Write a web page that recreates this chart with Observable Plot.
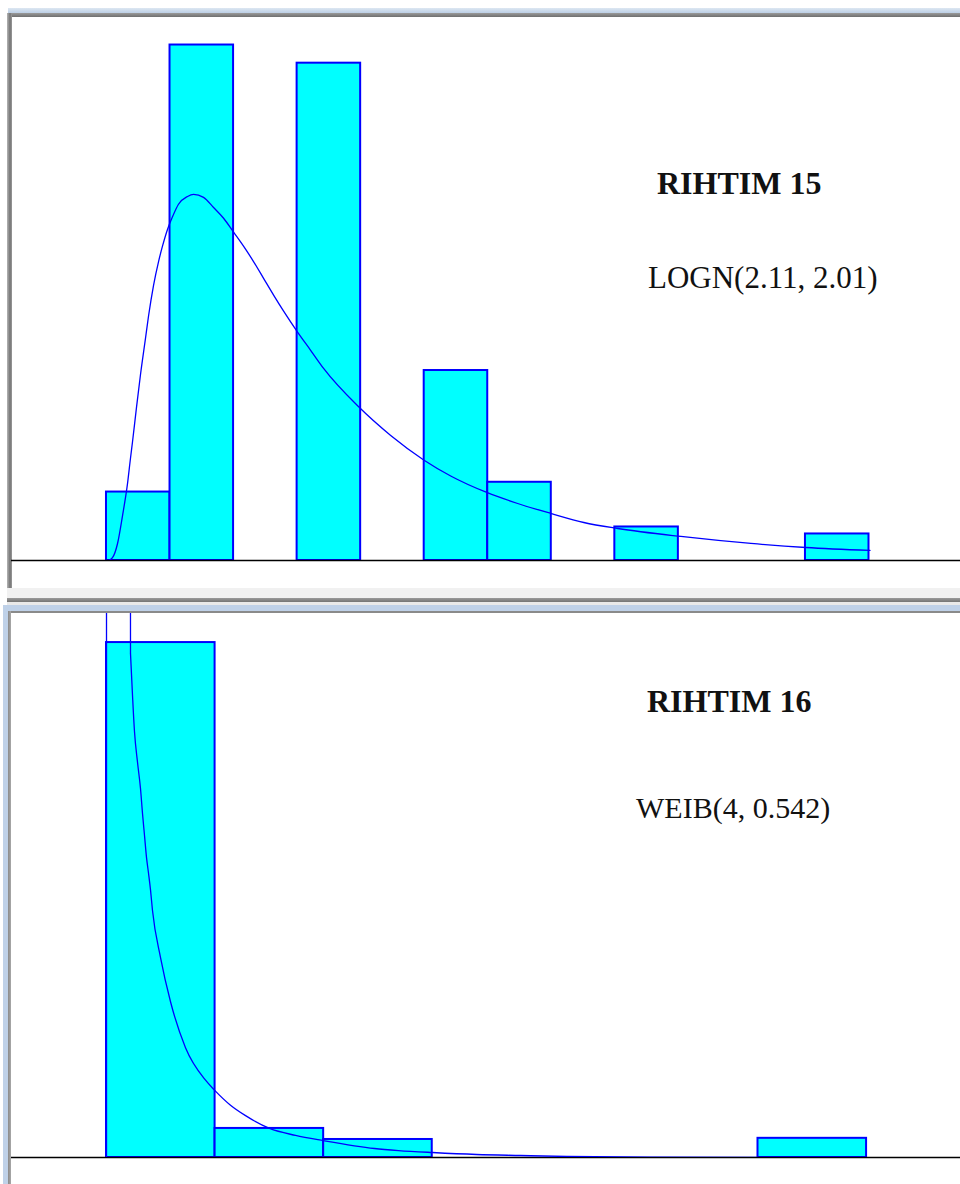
<!DOCTYPE html>
<html><head><meta charset="utf-8">
<script src="https://cdn.jsdelivr.net/npm/d3@7"></script>
<script src="https://cdn.jsdelivr.net/npm/@observablehq/plot@0.6"></script>
<style>
body{margin:0;background:#fff;width:960px;height:1184px;position:relative;overflow:hidden;font-family:"Liberation Serif","Times New Roman",serif}
.abs{position:absolute}
.lbl{position:absolute;line-height:1;white-space:nowrap;color:#111}
.ttl{font-weight:bold;font-size:32px}
</style></head><body>
<!-- window frame of panel 1 -->
<div class="abs" style="left:8px;top:8px;width:952px;height:5px;background:linear-gradient(#dde7f2,#bccfe5)"></div>
<div class="abs" style="left:7px;top:13px;width:953px;height:4px;background:linear-gradient(#9a9a9a,#6f6f6f)"></div>
<div class="abs" style="left:7px;top:13px;width:5px;height:575px;background:linear-gradient(90deg,#b5b5b5,#747474 60%,#9a9a9a)"></div>
<div class="abs" style="left:7px;top:588px;width:953px;height:10px;background:#f1f1f1"></div>
<!-- window frame of panel 2 -->
<div class="abs" style="left:7px;top:598px;width:953px;height:4px;background:linear-gradient(#9a9a9a,#747474)"></div>
<div class="abs" style="left:7px;top:602px;width:953px;height:3px;background:#e9e9e9"></div>
<div class="abs" style="left:3px;top:605px;width:957px;height:6px;background:#bfd1e8"></div>
<div class="abs" style="left:3px;top:605px;width:5px;height:579px;background:#bfd1e8"></div>
<div class="abs" style="left:8px;top:611px;width:952px;height:2px;background:#8a8a8a"></div>
<div class="abs" style="left:8px;top:611px;width:3px;height:573px;background:linear-gradient(90deg,#8a8a8a,#a8a8a8)"></div>

<div id="chart15" class="abs" style="left:11px;top:17px"></div>
<div id="chart16" class="abs" style="left:11px;top:613px"></div>

<div class="lbl ttl" style="left:657px;top:167px">RIHTIM 15</div>
<div class="lbl" style="left:648px;top:262px;font-size:31px">LOGN(2.11, 2.01)</div>
<div class="lbl ttl" style="left:647px;top:685px">RIHTIM 16</div>
<div class="lbl" style="left:636px;top:793px;font-size:30px">WEIB(4, 0.542)</div>

<script>
// ---- RIHTIM 15 : histogram (percent of observations per bin), bins of width 7/12 from 0
const r15BinStart = 0;
const r15BinWidth = 7 / 12;
const r15Freq = [4.9, 36.9, 0, 35.6, 0, 13.6, 5.6, 0, 2.4, 0, 0, 1.9];
// fitted LOGN(2.11, 2.01) curve (same units)
const r15CurveX = [0.018, 0.055, 0.101, 0.147, 0.193, 0.220, 0.239, 0.276, 0.312, 0.358, 0.386, 0.432, 0.478, 0.514, 0.560, 0.606, 0.661, 0.744, 0.799, 0.891, 0.983, 1.075, 1.167, 1.258, 1.350, 1.442, 1.534, 1.626, 1.754, 1.874, 1.993, 2.315, 2.609, 2.912, 3.160, 3.491, 3.775, 4.079, 4.382, 4.694, 5.273, 5.916, 6.421, 7.009];
const r15CurveY = [0, 0.2, 1.2, 3.2, 5.5, 7.3, 8.5, 11.0, 13.3, 15.9, 17.5, 19.7, 21.4, 22.5, 23.7, 24.6, 25.5, 26.06, 26.21, 25.99, 25.27, 24.5, 23.5, 22.5, 21.4, 20.2, 19.0, 17.85, 16.35, 15.05, 13.75, 11.0, 8.95, 7.2, 6.05, 4.87, 4.08, 3.37, 2.72, 2.29, 1.72, 1.22, 0.93, 0.72];

// ---- RIHTIM 16 : histogram, bins of width 20 from 0
const r16BinStart = 0;
const r16BinWidth = 20;
const r16Freq = [88.6, 5.0, 3.1, 0, 0, 0, 3.3];
// fitted WEIB(4, 0.542) curve (off-scale near 0)
const r16CurveX = [0, 0, 4.2, 4.42, 4.79, 5.16, 5.71, 6.26, 6.63, 7.00, 7.37, 7.74, 8.11, 8.47, 9.95, 11.79, 14.55, 18.24, 19.89, 22.84, 25.61, 30.03, 34.82, 39.97, 49.37, 53.79, 60.05, 68.16, 76.26, 84.74, 100.2, 120.1, 140];
const r16CurveY = [0, 400, 400, 86.7, 79.5, 73.2, 68.0, 63.5, 59.2, 55.4, 51.6, 48.9, 46.0, 42.5, 34.4, 26.8, 18.9, 13.3, 11.6, 9.0, 7.2, 5.0, 3.8, 2.9, 1.55, 1.2, 0.86, 0.52, 0.34, 0.17, 0.05, 0.02, 0.01];

const bars = (start, w, freq) => freq.map((v, i) => ({x1: start + i * w, x2: start + (i + 1) * w, y: v})).filter(d => d.y > 0);
const pts = (xs, ys) => xs.map((x, i) => ({x, y: ys[i]}));

function panel(binData, curveParts, xDomain, yDomain, mb) {
  return Plot.plot({
    width: 949, height: 571,
    marginTop: 0, marginRight: 0, marginLeft: 0, marginBottom: mb,
    x: {domain: xDomain, axis: null},
    y: {domain: yDomain, axis: null},
    style: {background: "transparent", overflow: "hidden"},
    marks: [
      Plot.rectY(binData, {x1: "x1", x2: "x2", y: "y", fill: "#00ffff", stroke: "#0000ff", strokeWidth: 2}),
      Plot.ruleY([0], {stroke: "#000", strokeWidth: 1.6}),
      ...curveParts.map(([data, curve]) =>
        Plot.line(data, {x: "x", y: "y", stroke: "#0000ff", strokeWidth: 1.3, curve, clip: true}))
    ]
  });
}

const r16Pts = pts(r16CurveX, r16CurveY);

document.getElementById("chart15").append(
  panel(bars(r15BinStart, r15BinWidth, r15Freq),
        [[pts(r15CurveX, r15CurveY), "monotone-x"]],
        [-0.872, 7.84], [0, 38.87], 28)
);
document.getElementById("chart16").append(
  panel(bars(r16BinStart, r16BinWidth, r16Freq),
        [[r16Pts.slice(0, 4), "linear"], [r16Pts.slice(3), "monotone-x"]],
        [-17.5, 157.3], [0, 93.6], 27)
);
</script>
</body></html>
